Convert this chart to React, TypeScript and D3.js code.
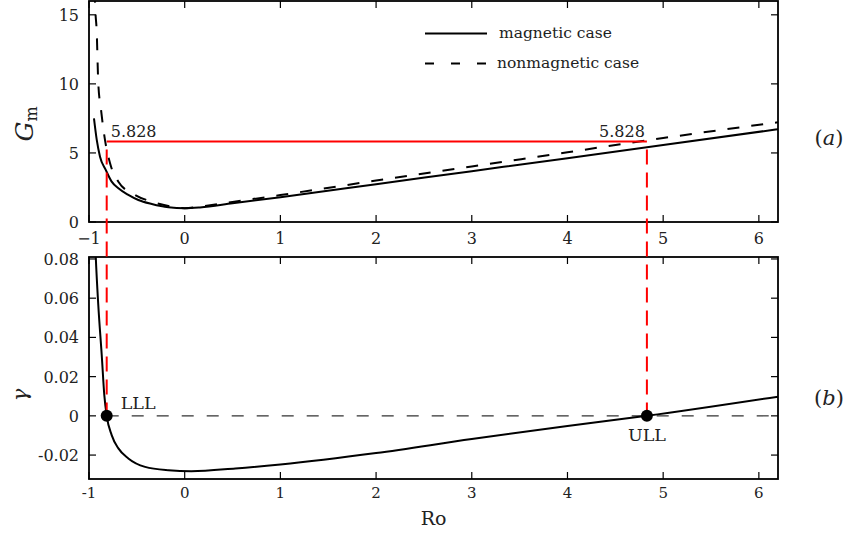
import React from "react";
import * as d3 from "d3";

// Ro values and growth-limit curves
const roMag = [-0.948, -0.919, -0.885, -0.825, -0.763, -0.693, -0.589, -0.484, -0.344, -0.17, 0.0, 0.16, 0.5, 1, 2, 3, 4, 5, 6.2];
const gmMag = [7.5, 5.94, 4.73, 3.77, 2.92, 2.44, 1.96, 1.59, 1.3, 1.06, 0.99, 1.05, 1.35, 1.8, 2.74, 3.68, 4.62, 5.57, 6.72];

const roNon = [-0.945, -0.937, -0.919, -0.903, -0.874, -0.833, -0.78, -0.693, -0.519, -0.344, -0.17, 0, 0.16, 0.5, 1, 2, 3, 4, 5, 6.2];
const gmNon = [18.5, 16.0, 13.7, 10.05, 8.1, 5.94, 4.25, 2.92, 1.96, 1.47, 1.16, 1.0, 1.12, 1.45, 1.95, 3.0, 4.02, 5.05, 6.08, 7.22];

const roGamma = [-0.94, -0.93, -0.903, -0.867, -0.84, -0.815, -0.763, -0.693, -0.589, -0.414, -0.17, 0.07, 0.53, 1, 2, 3, 4, 4.83, 6.2];
const gammaVals = [0.095, 0.082, 0.0565, 0.031, 0.0106, 0, -0.0098, -0.0166, -0.0217, -0.026, -0.0277, -0.0282, -0.0268, -0.0248, -0.019, -0.0118, -0.0052, 0, 0.0098];

const xTicks = [-1, 0, 1, 2, 3, 4, 5, 6];
const xTickLabelsTop = ["\u22121", "0", "1", "2", "3", "4", "5", "6"];
const xTickLabelsBottom = ["-1", "0", "1", "2", "3", "4", "5", "6"];
const gmTicks = [0, 5, 10, 15];
const gammaTicks = [-0.02, 0, 0.02, 0.04, 0.06, 0.08];
const gammaTickLabels = ["-0.02", "0", "0.02", "0.04", "0.06", "0.08"];

const limitRo = [-0.815, 4.83];
const limitLabels = ["LLL", "ULL"];
const gmThreshold = 5.828;
const thresholdLabel = "5.828";
const legendLabels = ["magnetic case", "nonmagnetic case"];

const W = 849;
const H = 533;
const L = 89;
const R = 778;
const TA = 1;
const BA = 222;
const TB = 257;
const BB = 479;
const FONT = "'DejaVu Serif', serif";

export default function App() {
  const x = d3.scaleLinear().domain([-1, 6.2]).range([L, R]);
  const yA = d3.scaleLinear().domain([0, 16]).range([BA, TA]);
  const yB = d3.scaleLinear().domain([-0.0322, 0.081]).range([BB, TB]);

  const lineA = d3
    .line<[number, number]>()
    .x((d) => x(d[0]))
    .y((d) => yA(d[1]))
    .curve(d3.curveMonotoneX);
  const lineB = d3
    .line<[number, number]>()
    .x((d) => x(d[0]))
    .y((d) => yB(d[1]))
    .curve(d3.curveMonotoneX);

  const magPts = roMag.map((r, i) => [r, gmMag[i]] as [number, number]);
  const nonPts = roNon.map((r, i) => [r, gmNon[i]] as [number, number]);
  const gamPts = roGamma.map((r, i) => [r, gammaVals[i]] as [number, number]);

  const tickLen = 7;

  const frame = (top: number, bottom: number, yTicks: number[], yScale: (v: number) => number) => (
    <g>
      {xTicks.map((t) => (
        <g key={"xt" + t}>
          <line x1={x(t)} x2={x(t)} y1={bottom} y2={bottom - tickLen} stroke="#000" strokeWidth={1.2} />
          <line x1={x(t)} x2={x(t)} y1={top} y2={top + tickLen} stroke="#000" strokeWidth={1.2} />
        </g>
      ))}
      {yTicks.map((t) => (
        <g key={"yt" + t}>
          <line x1={L} x2={L + tickLen} y1={yScale(t)} y2={yScale(t)} stroke="#000" strokeWidth={1.2} />
          <line x1={R} x2={R - tickLen} y1={yScale(t)} y2={yScale(t)} stroke="#000" strokeWidth={1.2} />
        </g>
      ))}
      <rect x={L} y={top} width={R - L} height={bottom - top} fill="none" stroke="#000" strokeWidth={1.8} />
    </g>
  );

  return (
    <div style={{ position: "absolute", left: 0, top: 0 }}>
      <svg width={W} height={H} viewBox={`0 0 ${W} ${H}`} style={{ display: "block", background: "#fff" }}>
        <defs>
          <clipPath id="clipA">
            <rect x={L} y={TA} width={R - L} height={BA - TA} />
          </clipPath>
          <clipPath id="clipB">
            <rect x={L} y={TB} width={R - L} height={BB - TB} />
          </clipPath>
        </defs>

        {/* Panel (a) */}
        <g clipPath="url(#clipA)">
          <path d={lineA(nonPts) || ""} fill="none" stroke="#000" strokeWidth={2} strokeDasharray="12,12" />
          <path d={lineA(magPts) || ""} fill="none" stroke="#000" strokeWidth={2} />
          <line x1={x(limitRo[0])} x2={x(limitRo[1])} y1={yA(gmThreshold)} y2={yA(gmThreshold)} stroke="#ff0000" strokeWidth={2} />
        </g>
        {frame(TA, BA, gmTicks, yA)}
        {gmTicks.map((t) => (
          <text key={"gl" + t} x={L - 10} y={yA(t) + 6} textAnchor="end" fontFamily={FONT} fontSize={16} fill="#222">
            {t}
          </text>
        ))}
        {xTicks.map((t, i) => (
          <text key={"xla" + t} x={x(t)} y={BA + 22} textAnchor="middle" fontFamily={FONT} fontSize={16} fill="#222">
            {xTickLabelsTop[i]}
          </text>
        ))}
        <text x={x(limitRo[0]) + 4} y={yA(gmThreshold) - 5} fontFamily={FONT} fontSize={16} fill="#222">
          {thresholdLabel}
        </text>
        <text x={x(limitRo[1]) - 2} y={yA(gmThreshold) - 5} textAnchor="end" fontFamily={FONT} fontSize={16} fill="#222">
          {thresholdLabel}
        </text>

        {/* legend */}
        <line x1={425} x2={487} y1={33.5} y2={33.5} stroke="#000" strokeWidth={2} />
        <text x={499} y={38} fontFamily={FONT} fontSize={15.5} fill="#222">
          {legendLabels[0]}
        </text>
        <line x1={425} x2={487} y1={63.5} y2={63.5} stroke="#000" strokeWidth={2} strokeDasharray="9,17" />
        <text x={497} y={68} fontFamily={FONT} fontSize={15.5} fill="#222">
          {legendLabels[1]}
        </text>

        {/* Panel (b) */}
        <g clipPath="url(#clipB)">
          <line x1={x(limitRo[0])} x2={R} y1={yB(0)} y2={yB(0)} stroke="#333" strokeWidth={1.2} strokeDasharray="12,13" />
          <path d={lineB(gamPts) || ""} fill="none" stroke="#000" strokeWidth={2} />
        </g>
        {frame(TB, BB, gammaTicks, yB)}
        {gammaTicks.map((t, i) => (
          <text key={"gml" + t} x={L - 10} y={yB(t) + 6} textAnchor="end" fontFamily={FONT} fontSize={16} fill="#222">
            {gammaTickLabels[i]}
          </text>
        ))}
        {xTicks.map((t, i) => (
          <text key={"xlb" + t} x={x(t)} y={BB + 19} textAnchor="middle" fontFamily={FONT} fontSize={15} fill="#222">
            {xTickLabelsBottom[i]}
          </text>
        ))}

        {/* red connectors */}
        {limitRo.map((r) => (
          <line key={"rv" + r} x1={x(r)} x2={x(r)} y1={yA(gmThreshold) + 8} y2={yB(0)} stroke="#ff0000" strokeWidth={2} strokeDasharray="15,8" />
        ))}
        {limitRo.map((r) => (
          <circle key={"c" + r} cx={x(r)} cy={yB(0)} r={6} fill="#000" />
        ))}
        <text x={x(limitRo[0]) + 14} y={yB(0) - 7} fontFamily={FONT} fontSize={17.5} fill="#222">
          {limitLabels[0]}
        </text>
        <text x={x(limitRo[1])} y={yB(0) + 25} textAnchor="middle" fontFamily={FONT} fontSize={17.5} fill="#222">
          {limitLabels[1]}
        </text>

        {/* axis titles */}
        <text transform="translate(33,124) rotate(-90)" textAnchor="middle" fontFamily={FONT} fontSize={25} fill="#222">
          <tspan fontStyle="italic">G</tspan>
          <tspan fontSize={16} dy={4}>m</tspan>
        </text>
        <text transform="translate(27,395) rotate(-90)" textAnchor="middle" fontFamily={FONT} fontSize={21} fontStyle="italic" fill="#222">
          γ
        </text>
        <text x={(L + R) / 2} y={525} textAnchor="middle" fontFamily={FONT} fontSize={19} fill="#222">
          Ro
        </text>
        <text x={829} y={145} textAnchor="middle" fontFamily={FONT} fontSize={21} fill="#222">
          (<tspan fontStyle="italic">a</tspan>)
        </text>
        <text x={829} y={405} textAnchor="middle" fontFamily={FONT} fontSize={21} fill="#222">
          (<tspan fontStyle="italic">b</tspan>)
        </text>
      </svg>
    </div>
  );
}
